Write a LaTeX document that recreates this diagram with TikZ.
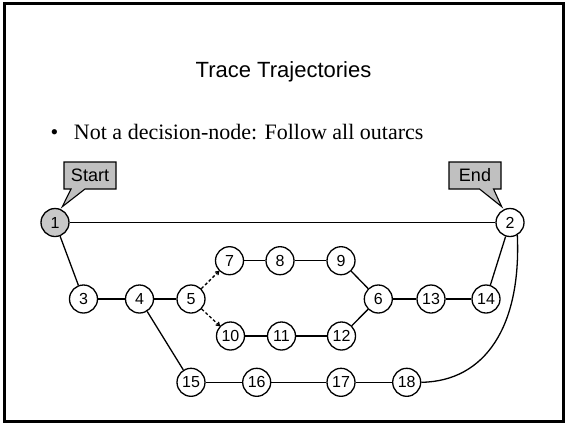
\documentclass[tikz,border=0pt]{standalone}
\usepackage{fontspec}
\setmainfont{Liberation Serif}
\newfontfamily\arialfont{Liberation Sans}
\usetikzlibrary{shapes.callouts,arrows.meta}
\definecolor{calloutgray}{RGB}{192,192,192}
\definecolor{startgray}{RGB}{200,200,200}
\tikzset{
  st/.style={circle,draw,line width=1.3pt,minimum size=28pt,inner sep=0pt,fill=white,
    font=\arialfont\fontsize{16}{18}\selectfont},
  startst/.style={st,fill=startgray},
  edge/.style={line width=1.3pt},
  dasharrow/.style={line width=1.3pt,dash pattern=on 3pt off 2.2pt,-{To[length=4pt,width=5pt]}},
  callbox/.style={rectangle callout,draw,line width=1.1pt,fill=calloutgray,
    minimum width=52pt,minimum height=27pt,inner sep=0pt,callout pointer width=14pt,
    font=\arialfont\fontsize{18}{20}\selectfont},
}
\begin{document}
\begin{tikzpicture}[x=1pt,y=-1pt]
\useasboundingbox (0,0) rectangle (565,424);
\draw[line width=3pt] (4,3.5) rectangle (563,421.5);
\node[anchor=base,inner sep=0pt,font=\arialfont\fontsize{22}{26}\selectfont] (title) at (283.5,77) {Trace Trajectories};
\node[anchor=base west,inner sep=0pt,font=\fontsize{22}{26}\selectfont] (bullet) at (50.5,139.5) {\textbullet\hspace{15.6pt}Not a decision-node: Follow all outarcs};
% states
\node[startst] (n1) at (55,222.5) {1};
\node[st] (n2) at (510,222.5) {2};
\node[st] (n3) at (83.5,299) {3};
\node[st] (n4) at (139.5,299) {4};
\node[st] (n5) at (191,299) {5};
\node[st] (n7) at (229.5,260.7) {7};
\node[st] (n8) at (280,260.7) {8};
\node[st] (n9) at (341,260.7) {9};
\node[st] (n6) at (378.3,299) {6};
\node[st] (n13) at (431,299) {13};
\node[st] (n14) at (486,299) {14};
\node[st] (n10) at (230.5,336) {10};
\node[st] (n11) at (281.5,336) {11};
\node[st] (n12) at (341.5,336) {12};
\node[st] (n15) at (191,382.3) {15};
\node[st] (n16) at (256.7,382.3) {16};
\node[st] (n17) at (341,382.3) {17};
\node[st] (n18) at (406.7,382.3) {18};
% callouts
\node[callbox,callout absolute pointer={(62.3,206.7)}] (start) at (90,175.5) {Start};
\node[callbox,callout absolute pointer={(501.7,206.7)}] (end) at (475,175.5) {End};
% edges
\draw[edge] (n1) -- (n2);
\draw[edge] (n1) -- (n3);
\draw[edge] (n3) -- (n4);
\draw[edge] (n4) -- (n5);
\draw[dasharrow] (n5) -- (n7);
\draw[dasharrow] (n5) -- (n10);
\draw[edge] (n7) -- (n8);
\draw[edge] (n8) -- (n9);
\draw[edge] (n9) -- (n6);
\draw[edge] (n10) -- (n11);
\draw[edge] (n11) -- (n12);
\draw[edge] (n12) -- (n6);
\draw[edge] (n6) -- (n13);
\draw[edge] (n13) -- (n14);
\draw[edge] (n14) -- (n2);
\draw[edge] (n4) -- (n15);
\draw[edge] (n15) -- (n16);
\draw[edge] (n16) -- (n17);
\draw[edge] (n17) -- (n18);
\draw[edge] (n18.east) .. controls +(64,-1) and +(4,91) .. (n2.-60);
\end{tikzpicture}
\end{document}
